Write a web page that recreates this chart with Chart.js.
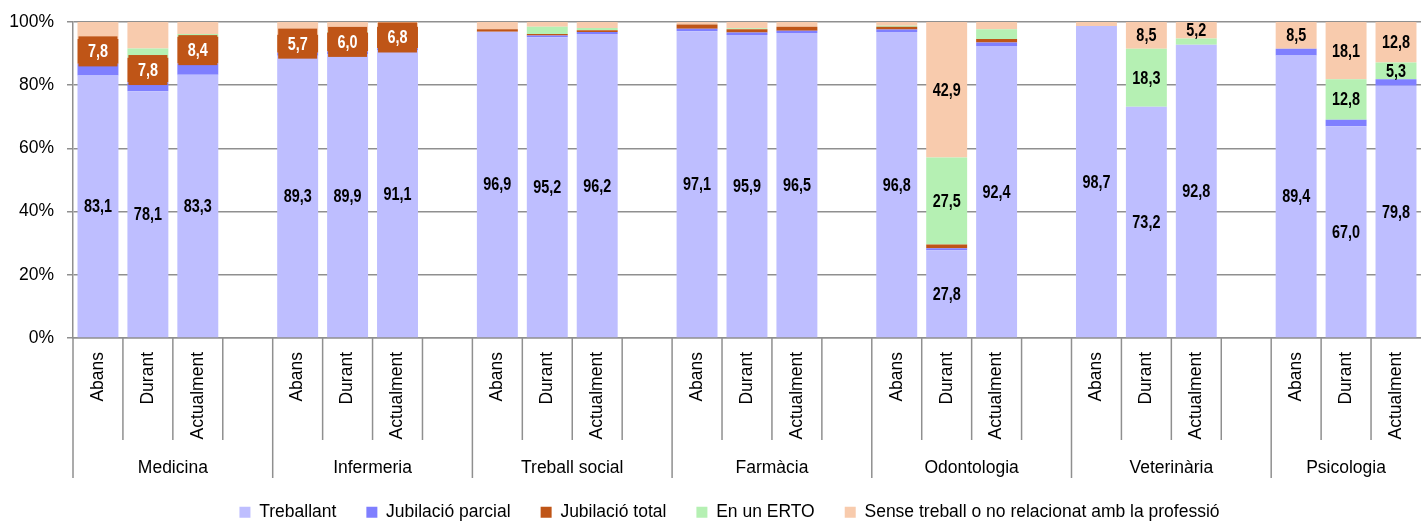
<!DOCTYPE html>
<html>
<head>
<meta charset="utf-8">
<script src="https://cdn.jsdelivr.net/npm/chart.js@4.4.0/dist/chart.umd.min.js"></script>
<style>
  html, body { margin: 0; padding: 0; background: #fff; overflow: hidden; }
  #wrap { width: 1431px; height: 531px; }
</style>
</head>
<body>
<div id="wrap"><canvas id="chart" width="1431" height="531"></canvas></div>
<script>
// categories
const groups = ['Medicina', 'Infermeria', 'Treball social', 'Farmàcia', 'Odontologia', 'Veterinària', 'Psicologia'];
const moments = ['Abans', 'Durant', 'Actualment'];
const seriesNames = ['Treballant', 'Jubilació parcial', 'Jubilació total', 'En un ERTO', 'Sense treball o no relacionat amb la professió'];
const yTicks = [0, 20, 40, 60, 80, 100];

// values (%), 3 per group: Abans, Durant, Actualment
const treballant = [83.1, 78.1, 83.3, 89.3, 89.9, 91.1, 96.9, 95.2, 96.2, 97.1, 95.9, 96.5, 96.8, 27.8, 92.4, 98.7, 73.2, 92.8, 89.4, 67.0, 79.8];
const parcial    = [3.7, 2.8, 3.6, 1.0, 0.8, 0.6, 0, 0.5, 0.6, 0.8, 0.8, 0.7, 0.8, 0.6, 1.1, 0, 0, 0, 2.1, 2.1, 2.1];
const total      = [7.8, 7.8, 8.4, 5.7, 6.0, 6.8, 0.8, 0.5, 0.6, 1.3, 1.0, 1.3, 0.9, 1.2, 1.1, 0, 0, 0, 0, 0, 0];
const erto       = [0, 2.9, 0.9, 0, 0.3, 0, 0, 2.3, 0.7, 0, 0.3, 0, 0.3, 27.5, 3.1, 0, 18.3, 2.0, 0, 12.8, 5.3];
const sense      = [5.4, 8.4, 3.8, 4.0, 3.0, 1.5, 2.3, 1.5, 1.9, 0.8, 2.0, 1.5, 1.2, 42.9, 2.3, 1.3, 8.5, 5.2, 8.5, 18.1, 12.8];

// which values carry a data label
const showTreballant = [1,1,1, 1,1,1, 1,1,1, 1,1,1, 1,1,1, 1,1,1, 1,1,1];
const showParcial    = [0,0,0, 0,0,0, 0,0,0, 0,0,0, 0,0,0, 0,0,0, 0,0,0];
const showTotal      = [1,1,1, 1,1,1, 0,0,0, 0,0,0, 0,0,0, 0,0,0, 0,0,0];
const showErto       = [0,0,0, 0,0,0, 0,0,0, 0,0,0, 0,1,0, 0,1,0, 0,1,1];
const showSense      = [0,0,0, 0,0,0, 0,0,0, 0,0,0, 0,1,0, 0,1,1, 1,1,1];

const colors = ['#bebeff', '#7f7fff', '#bf5517', '#b5f0b3', '#f8cbad'];
const FONT = "'Liberation Sans', Arial, sans-serif";
const GRID = '#8f8f8f';

// slot layout: 4 slots per group (last one empty), final group has no trailing slot
const slotIndex = [];
const slotLabels = [];
groups.forEach((g, gi) => {
    for (let k = 0; k < 4; k++) {
        if (k < 3) {
            slotIndex.push(gi * 3 + k);
            slotLabels.push(moments[k]);
        } else if (gi < groups.length - 1) {
            slotIndex.push(null);
            slotLabels.push('');
        }
    }
});

function pad(values) {
    return slotIndex.map(i => i === null ? null : values[i]);
}

function fmt(v) {
    return v.toFixed(1).replace('.', ',');
}

const seriesValues = [treballant, parcial, total, erto, sense];
const labelFlags = [showTreballant, showParcial, showTotal, showErto, showSense];

const valueLabels = {
    id: 'valueLabels',
    afterDatasetsDraw(chart) {
        const ctx = chart.ctx;
        chart.data.datasets.forEach((ds, d) => {
            const meta = chart.getDatasetMeta(d);
            meta.data.forEach((bar, s) => {
                const i = slotIndex[s];
                if (i === null || !labelFlags[d][i]) return;
                const cy = (bar.y + bar.base) / 2;
                ctx.save();
                if (d === 2) {
                    // boxed white label on the brown series
                    ctx.fillStyle = colors[2];
                    ctx.fillRect(bar.x - bar.width / 2 + 1, cy - 15, bar.width - 2, 30);
                    ctx.fillStyle = '#fff';
                } else {
                    ctx.fillStyle = '#000';
                }
                // condensed bold look
                ctx.translate(bar.x, cy + 1);
                ctx.scale(0.8, 1);
                ctx.font = 'bold 18px ' + FONT;
                ctx.textAlign = 'center';
                ctx.textBaseline = 'middle';
                ctx.fillText(fmt(seriesValues[d][i]), 0, 0);
                ctx.restore();
            });
        });
    }
};

const categoryAxis = {
    id: 'categoryAxis',
    afterLayout(chart) {
        // nudge legend to the right like the original
        chart.legend.left += 14;
        chart.legend.right += 14;
    },
    afterDraw(chart) {
        const x = chart.scales.x;
        const ctx = chart.ctx;
        const w = x.getPixelForValue(1) - x.getPixelForValue(0);
        const top = x.top;
        ctx.save();
        ctx.strokeStyle = GRID;
        ctx.lineWidth = 1.5;
        for (let s = 0; s < slotLabels.length; s++) {
            const left = x.getPixelForValue(s) - w / 2;
            const len = s % 4 === 0 ? 140 : 102;
            ctx.beginPath();
            ctx.moveTo(left, top);
            ctx.lineTo(left, top + len);
            ctx.stroke();
        }
        ctx.fillStyle = '#000';
        ctx.font = '17.5px ' + FONT;
        ctx.textAlign = 'center';
        ctx.textBaseline = 'alphabetic';
        groups.forEach((g, gi) => {
            const first = gi * 4;
            const n = Math.min(4, slotLabels.length - first);
            const cx = x.getPixelForValue(first) - w / 2 + n * w / 2;
            ctx.fillText(g, cx, top + 135);
        });
        ctx.restore();
    }
};

const ctx = document.getElementById('chart').getContext('2d');
new Chart(ctx, {
    type: 'bar',
    data: {
        labels: slotLabels,
        datasets: seriesNames.map((name, d) => ({
            label: name,
            data: pad(seriesValues[d]),
            backgroundColor: colors[d],
            borderWidth: 0,
            barPercentage: 0.82,
            categoryPercentage: 1
        }))
    },
    options: {
        responsive: false,
        animation: false,
        events: [],
        layout: { padding: { top: 22, left: 0, right: 0, bottom: 0 } },
        plugins: {
            tooltip: { enabled: false },
            legend: {
                position: 'bottom',
                labels: {
                    boxWidth: 11,
                    boxHeight: 11,
                    padding: 30,
                    color: '#000',
                    font: { family: FONT, size: 17.5 }
                }
            }
        },
        scales: {
            x: {
                stacked: true,
                afterFit: scale => { scale.height = 135.5; },
                grid: { display: false, drawTicks: false },
                border: { display: true, color: GRID, width: 1.5 },
                ticks: {
                    autoSkip: false,
                    minRotation: 90,
                    maxRotation: 90,
                    padding: 14,
                    color: '#000',
                    font: { family: FONT, size: 17.5 }
                }
            },
            y: {
                stacked: true,
                min: 0,
                max: 100,
                afterFit: scale => { scale.width = 73; },
                afterBuildTicks: scale => { scale.ticks = yTicks.map(v => ({ value: v })); },
                grid: { color: GRID, lineWidth: 1.5, tickLength: 6 },
                border: { color: GRID, width: 1.5 },
                ticks: {
                    padding: 13,
                    color: '#000',
                    font: { family: FONT, size: 17.5, lineHeight: 1 },
                    callback: v => v + '%'
                }
            }
        }
    },
    plugins: [valueLabels, categoryAxis]
});
</script>
</body>
</html>
